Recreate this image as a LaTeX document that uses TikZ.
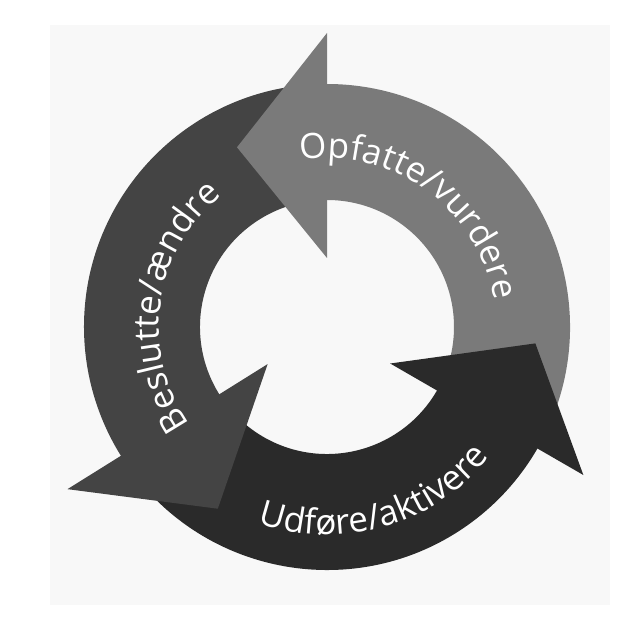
\documentclass[tikz,border=0pt]{standalone}
\usepackage{fontspec}
\usetikzlibrary{decorations.text}
\newfontfamily\cyclefam{Open Sans}
\newcommand\cyclefont{\cyclefam\fontsize{35}{40}\selectfont}
\definecolor{opfattegray}{HTML}{7A7A7A}
\definecolor{beslutgray}{HTML}{444444}
\definecolor{udfoergray}{HTML}{2A2A2A}
\definecolor{bggray}{HTML}{F8F8F8}

\begin{document}
\begin{tikzpicture}[x=1pt,y=1pt,
  arctext/.style={decorate,decoration={text along path,text align=center,
    text color=white,text={|\cyclefont|#1}}}]

  \useasboundingbox (-327,-307) rectangle (315,327);
  \fill[bggray] (-277,-278) rectangle (283,302);

  % the three bands of the ring (tails hide under the heads)
  \fill[opfattegray] (-27:243) arc[start angle=-27,end angle=91,radius=243]
    -- (91:127) arc[start angle=91,end angle=-27,radius=127] -- cycle;
  \fill[beslutgray] (93:243) arc[start angle=93,end angle=213,radius=243]
    -- (213:127) arc[start angle=213,end angle=93,radius=127] -- cycle;
  \fill[udfoergray] (215:243) arc[start angle=215,end angle=331,radius=243]
    -- (331:127) arc[start angle=331,end angle=215,radius=127] -- cycle;

  % arrow heads
  \fill[opfattegray] (90:69) -- (90:294) -- (116.6:201) -- cycle;
  \fill[beslutgray] (212:70) -- (212:306) -- (239:212) -- cycle;
  \fill[udfoergray] (330:73) -- (330:296) -- (355.5:209) -- cycle;

  % labels
  \path[arctext={Opfatte/vurdere}] (100:169) arc[start angle=100,end angle=8,radius=169];
  \path[arctext={Beslutte/ændre}] (216:168) arc[start angle=216,end angle=128,radius=168];
  \path[arctext={Udføre/aktivere}] (250:208) arc[start angle=250,end angle=322,radius=208];
\end{tikzpicture}
\end{document}
